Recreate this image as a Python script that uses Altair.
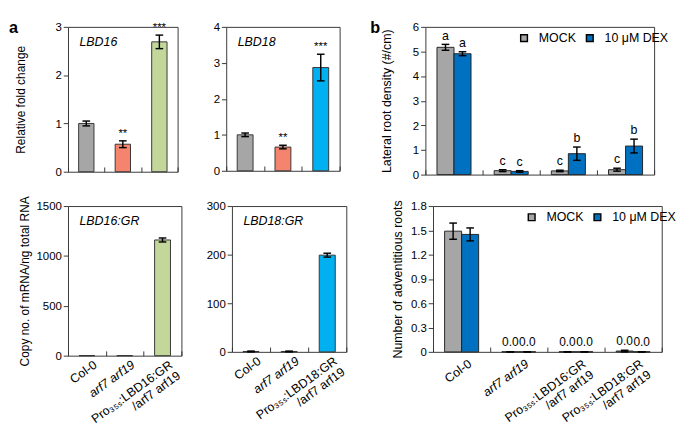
import altair as alt
import pandas as pd

FONT = "Liberation Sans"

# ---------------- Panel a data ----------------
a_cats16 = ["Col-0", "arf7 arf19", "Pro₃₅ₛ:LBD16:GR\n/arf7 arf19"]
a_cats18 = ["Col-0", "arf7 arf19", "Pro₃₅ₛ:LBD18:GR\n/arf7 arf19"]
a_colors16 = ["#a6a6a6", "#f4846e", "#c4d79b"]
a_colors18 = ["#a6a6a6", "#f4846e", "#00b0f0"]

lbd16_fold = [1.00, 0.57, 2.69]
lbd16_fold_err = [0.05, 0.07, 0.14]
lbd16_sig = ["", "**", "***"]

lbd18_fold = [1.00, 0.66, 2.87]
lbd18_fold_err = [0.05, 0.05, 0.37]
lbd18_sig = ["", "**", "***"]

lbd16gr_copy = [0, 0, 1160]
lbd16gr_copy_err = [None, None, 20]
lbd16gr_sig = ["", "", ""]

lbd18gr_copy = [0.8, 0.8, 199]
lbd18gr_copy_err = [0.8, 0.8, 4]
lbd18gr_sig = ["", "", ""]

# ---------------- Panel b data ----------------
b_cats = ["Col-0", "arf7 arf19", "Pro₃₅ₛ:LBD16:GR\n/arf7 arf19", "Pro₃₅ₛ:LBD18:GR\n/arf7 arf19"]
b_treat = ["MOCK", "10 μM DEX"]
b_colors = ["#a6a6a6", "#0070c0"]

lr_mock = [5.17, 0.16, 0.15, 0.20]
lr_mock_err = [0.12, 0.04, 0.03, 0.06]
lr_dex = [4.91, 0.13, 0.85, 1.16]
lr_dex_err = [0.08, 0.03, 0.27, 0.28]
lr_mock_let = ["a", "c", "c", "c"]
lr_dex_let = ["a", "c", "b", "b"]

ar_mock = [1.49, 0.0, 0.0, 0.01]
ar_mock_err = [0.10, 0.0, 0.0, 0.01]
ar_dex = [1.45, 0.0, 0.0, 0.0]
ar_dex_err = [0.08, 0.0, 0.0, 0.0]
ar_mock_lab = ["", "0.0", "0.0", "0.0"]
ar_dex_lab = ["", "0.0", "0.0", "0.0"]

ITALIC_COND = {"condition": {"test": "datum.value == 'arf7 arf19'", "value": "italic"}, "value": "normal"}


def corner_layer(text, x, y, size, baseline, bold, opacity=1):
    kw = dict(align="left", baseline=baseline, fontSize=size, opacity=opacity)
    if bold:
        kw["fontWeight"] = "bold"
    return alt.Chart(pd.DataFrame({"t": [text]})).mark_text(**kw).encode(
        x=alt.value(x), y=alt.value(y), text="t:N")


def x_axis(show, lab_pad, lab_off):
    return alt.Axis(title=None, domain=False, tickBand="extent", offset=-5, tickSize=5,
                    labels=show, labelAngle=-36, labelAlign="right", labelBaseline="top",
                    labelPadding=lab_pad, labelOffset=lab_off, labelLineHeight=14,
                    labelFontSize=13,
                    labelExpr="split(datum.label, '\\n')", labelFontStyle=ITALIC_COND)


def a_panel(cats, colors, vals, errs, sig, gene, ymax, yticks, w, h, ytitle,
            tpad, show_x, corner):
    df = pd.DataFrame({"cat": cats, "col": colors, "v": vals, "e": errs, "sig": sig})
    df["e"] = df["e"].astype(float)
    df["hi"] = df["v"] + df["e"]
    df["lo"] = df["v"] - df["e"]
    X = alt.X("cat:N", sort=cats, scale=alt.Scale(paddingInner=0, paddingOuter=0),
              axis=x_axis(show_x, 3, 5))
    yaxis = alt.Axis(title=ytitle, values=yticks, tickSize=5, labelPadding=2, titlePadding=tpad,
                     grid=False, domain=False, format="d")

    def Y(f):
        return alt.Y(f"{f}:Q", scale=alt.Scale(domain=[0, ymax], nice=False), axis=yaxis)

    base = alt.Chart(df)
    bars = base.mark_bar(width={"band": 0.42}, stroke="#333333", strokeWidth=1).encode(
        x=X, y=Y("v"), color=alt.Color("col:N", scale=None))
    eb = base.transform_filter("isValid(datum.e)")
    rule = eb.mark_rule(color="black", strokeWidth=1.5).encode(x=X, y=Y("lo"), y2="hi:Q")
    cap_hi = eb.mark_tick(color="black", size=8, thickness=1.5, opacity=1).encode(x=X, y=Y("hi"))
    cap_lo = eb.mark_tick(color="black", size=8, thickness=1.5, opacity=1).encode(x=X, y=Y("lo"))
    sig_t = eb.mark_text(baseline="bottom", dy=-1, fontSize=12).encode(x=X, y=Y("hi"), text="sig:N")
    gene_t = alt.Chart(pd.DataFrame({"t": [gene]})).mark_text(
        align="left", baseline="alphabetic", fontStyle="italic", fontSize=13).encode(
        x=alt.value(12), y=alt.value(20), text="t:N")
    return alt.layer(bars, rule, cap_hi, cap_lo, sig_t, gene_t, corner).properties(width=w, height=h)


def b_panel(vm, em, vd, ed, lm, ld, ymax, yticks, label_expr, w, h, ytitle, tpad,
            show_x, corner, text_size, text_dy):
    rows = []
    for i, c in enumerate(b_cats):
        rows.append(dict(cat=c, tr=b_treat[0], v=vm[i], e=em[i], lab=lm[i]))
        rows.append(dict(cat=c, tr=b_treat[1], v=vd[i], e=ed[i], lab=ld[i]))
    df = pd.DataFrame(rows)
    df["hi"] = df["v"] + df["e"]
    df["lo"] = df["v"] - df["e"]
    X = alt.X("cat:N", sort=b_cats, scale=alt.Scale(paddingInner=0, paddingOuter=0),
              axis=x_axis(show_x, 6, 5))
    XO = alt.XOffset("tr:N", sort=b_treat, scale=alt.Scale(paddingInner=0, paddingOuter=0.68))
    ykw = dict(title=ytitle, values=yticks, tickSize=5, labelPadding=2, titlePadding=tpad,
               grid=False, domain=False, titleFontSize=13)
    if label_expr:
        ykw["labelExpr"] = label_expr
    yaxis = alt.Axis(**ykw)

    def Y(f):
        return alt.Y(f"{f}:Q", scale=alt.Scale(domain=[0, ymax], nice=False), axis=yaxis)

    legend = alt.Legend(title=None, orient="none", legendX=97, legendY=5, direction="horizontal",
                        symbolType="square", symbolSize=50, symbolStrokeColor="black",
                        symbolStrokeWidth=1.5, labelFontSize=13, labelFont=FONT, padding=0,
                        columnPadding=7, labelOffset=9, symbolOpacity=1)
    base = alt.Chart(df)
    bars = base.mark_bar(stroke="#222222", strokeWidth=1).encode(
        x=X, xOffset=XO, y=Y("v"),
        color=alt.Color("tr:N", sort=b_treat,
                        scale=alt.Scale(domain=b_treat, range=b_colors), legend=legend))
    rule = base.mark_rule(color="black", strokeWidth=1.5).encode(x=X, xOffset=XO, y=Y("lo"), y2="hi:Q")
    cap_hi = base.mark_tick(color="black", size=8, thickness=1.5, opacity=1).encode(x=X, xOffset=XO, y=Y("hi"))
    cap_lo = base.mark_tick(color="black", size=8, thickness=1.5, opacity=1).encode(x=X, xOffset=XO, y=Y("lo"))
    txt = base.mark_text(baseline="bottom", dy=text_dy, fontSize=text_size).encode(
        x=X, xOffset=XO, y=Y("hi"), text="lab:N")
    return alt.layer(bars, rule, cap_hi, cap_lo, txt, corner).properties(width=w, height=h)


c1 = a_panel(a_cats16, a_colors16, lbd16_fold, lbd16_fold_err, lbd16_sig, "LBD16", 3, [0, 1, 2, 3],
             115, 152, "Relative fold change", 29, False,
             corner_layer("a", -62, 6, 17, "alphabetic", True))
c2 = a_panel(a_cats18, a_colors18, lbd18_fold, lbd18_fold_err, lbd18_sig, "LBD18", 4, [0, 1, 2, 3, 4],
             119, 151, None, 4, False,
             corner_layer(" ", 0, 8, 17, "alphabetic", True))
c3 = b_panel(lr_mock, lr_mock_err, lr_dex, lr_dex_err, lr_mock_let, lr_dex_let, 6,
             [0, 1, 2, 3, 4, 5, 6], None, 240, 155, "Lateral root density (#/cm)", 20, False,
             corner_layer("b", -58, 6, 17, "alphabetic", True), 13, -2)

c4 = a_panel(a_cats16, a_colors16, lbd16gr_copy, lbd16gr_copy_err, lbd16gr_sig, "LBD16:GR", 1500,
             [0, 500, 1000, 1500], 119, 157, "Copy no. of mRNA/ng total RNA", 5, True,
             corner_layer("a", -57, 0, 12, "middle", False, 0))
c5 = a_panel(a_cats18, a_colors18, lbd18gr_copy, lbd18gr_copy_err, lbd18gr_sig, "LBD18:GR", 300,
             [0, 100, 200, 300], 120, 153, None, 4, True,
             corner_layer(" ", 0, 0, 12, "middle", False))
c6 = b_panel(ar_mock, ar_mock_err, ar_dex, ar_dex_err, ar_mock_lab, ar_dex_lab, 1.8,
             [0, 0.3, 0.6, 0.9, 1.2, 1.5, 1.8], "datum.value == 0 ? '0' : format(datum.value, '.1f')",
             240, 153, "Number of adventitious roots", 6, True,
             corner_layer(" ", 0, 0, 12, "middle", False), 12.5, -3)

row1 = alt.hconcat(
    alt.hconcat(c1, c2, spacing=35).resolve_scale(color="independent"),
    c3, spacing=30).resolve_scale(color="independent")
row2 = alt.hconcat(
    alt.hconcat(c4, c5, spacing=23).resolve_scale(color="independent"),
    c6, spacing=45).resolve_scale(color="independent")

chart = alt.concat(row1, row2, columns=1, spacing=14, align="none").resolve_scale(
    color="independent"
).properties(
    padding=0
).configure_view(
    stroke="#333333", strokeWidth=1
).configure_axis(
    labelFont=FONT, titleFont=FONT, labelFontSize=12, titleFontSize=12.5,
    titleFontWeight="normal", labelColor="black", titleColor="black",
    tickColor="#333333", grid=False, domain=False
).configure_text(font=FONT, color="black")

chart.save("out.html", embed_options={"renderer": "svg", "actions": False})
